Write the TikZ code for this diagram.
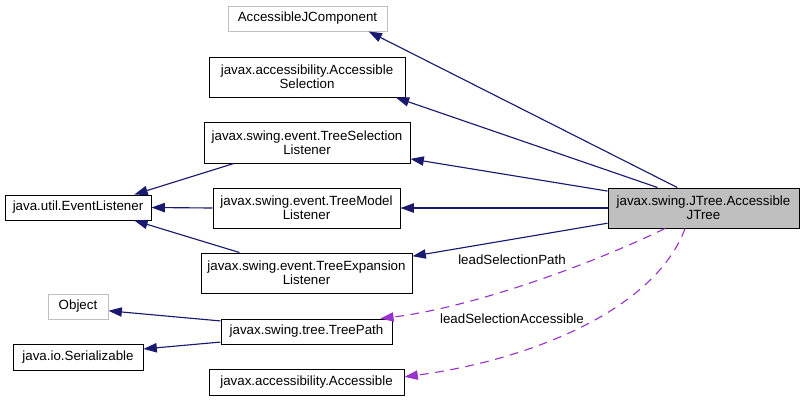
\documentclass[tikz,border=0pt]{standalone}
\usepackage{fontspec}
\setmainfont{Liberation Sans}
\usetikzlibrary{arrows.meta}
\definecolor{edgeblue}{HTML}{191970}
\definecolor{edgepurple}{HTML}{9A32CD}
\definecolor{boxgray}{HTML}{BFBFBF}
\begin{document}
\begin{tikzpicture}[x=0.75pt, y=-0.75pt,
  cls/.style={draw, line width=0.75pt, inner sep=0pt, align=center, font=\fontsize{10}{10.5}\selectfont},
  ext/.style={cls, draw=boxgray},
  inh/.style={edgeblue, line width=0.85pt, -{Triangle[length=10pt,width=7pt]}},
  use/.style={edgepurple, line width=0.85pt, dash pattern=on 6.5pt off 5pt, -{Triangle[length=10pt,width=7pt]}},
  lbl/.style={inner sep=0pt, font=\fontsize{10}{10.5}\selectfont}]
 \useasboundingbox (0,0) rectangle (804,401);
 % classes
 \node[ext, minimum width=119.25pt, minimum height=18.75pt] (ajc) at (307.5,18.5) {AccessibleJComponent};
 \node[cls, minimum width=147pt, minimum height=30pt] (asel) at (307,77) {javax.accessibility.Accessible\\Selection};
 \node[cls, minimum width=154.5pt, minimum height=30.75pt] (tsl) at (307,142.5) {javax.swing.event.TreeSelection\\Listener};
 \node[cls, minimum width=109.5pt, minimum height=18.75pt] (evl) at (78,207.5) {java.util.EventListener};
 \node[cls, minimum width=140.25pt, minimum height=30pt] (tml) at (306.5,208) {javax.swing.event.TreeModel\\Listener};
 \node[cls, minimum width=158.25pt, minimum height=30pt] (tel) at (306.5,273) {javax.swing.event.TreeExpansion\\Listener};
 \node[ext, minimum width=45pt, minimum height=18.75pt] (obj) at (78,306.5) {Object};
 \node[cls, minimum width=128.25pt, minimum height=18.75pt] (tp) at (306.5,331.5) {javax.swing.tree.TreePath};
 \node[cls, minimum width=97.5pt, minimum height=19.5pt] (ser) at (78,357) {java.io.Serializable};
 \node[cls, minimum width=146.25pt, minimum height=19.5pt] (acc) at (306.5,382) {javax.accessibility.Accessible};
 \node[cls, fill=boxgray, minimum width=143.25pt, minimum height=30pt] (ajt) at (703.5,208) {javax.swing.JTree.Accessible\\JTree};
 % inheritance
 \draw[inh] (ajt.142) -- (ajc.-12);
 \draw[inh] (ajt.156) -- (asel.-13.5);
 \draw[inh] (ajt.170.5) -- (tsl.-9.6);
 \draw[inh] (ajt.west) -- (tml.east);
 \draw[inh] (ajt.189.5) -- (tel.9.9);
 \draw[inh] (tsl.196.3) -- (evl.13.5);
 \draw[inh] (tml.west) -- (evl.east);
 \draw[inh] (tel.163.9) -- (evl.-13.5);
 \draw[inh] (tp.173.7) -- (obj.-8.5);
 \draw[inh] (tp.187) -- (ser.7);
 % usage
 \draw[use] (ajt.208.7) .. controls (590,265) and (470,308) .. (tp.10.3);
 \draw[use] (ajt.228.8) .. controls (655,310) and (530,360) .. (acc.3.5);
 \node[lbl] (lpath) at (512,260) {leadSelectionPath};
 \node[lbl] (lacc) at (512,319) {leadSelectionAccessible};
\end{tikzpicture}
\end{document}
